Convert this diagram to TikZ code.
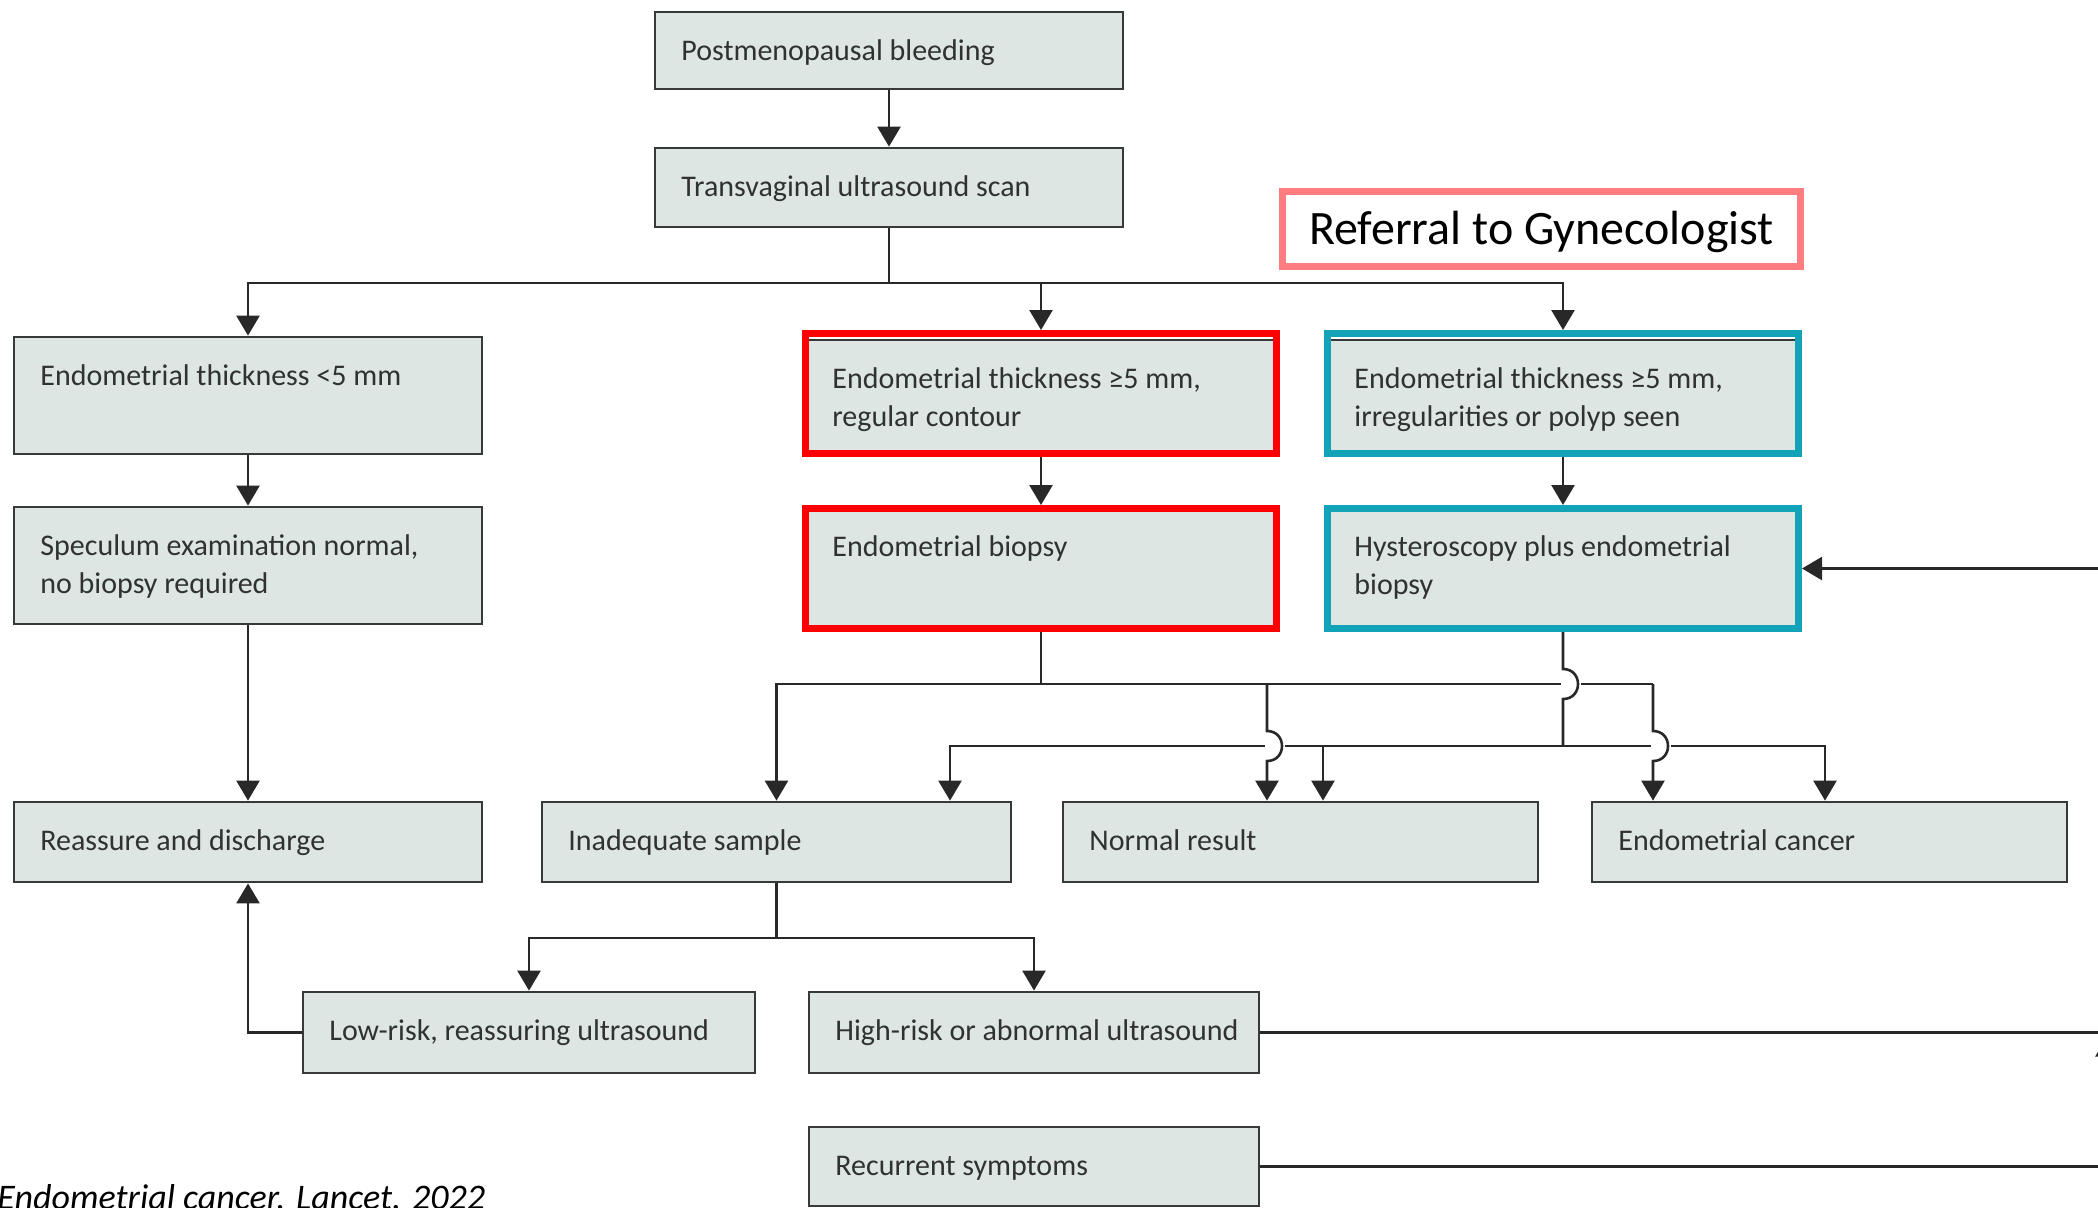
\documentclass[tikz,border=0pt]{standalone}
\usepackage{fontspec}
\setmainfont{Carlito}
\usetikzlibrary{arrows.meta,fit,calc}

\definecolor{boxfill}{RGB}{221,230,226}
\definecolor{boxline}{RGB}{55,58,56}
\definecolor{linkcol}{RGB}{40,40,40}
\definecolor{boxtxt}{RGB}{48,50,49}
\definecolor{redframe}{RGB}{255,0,0}
\definecolor{tealframe}{RGB}{18,163,184}
\definecolor{pinkframe}{RGB}{255,124,128}

\tikzset{
  stepbox/.style={draw=boxline, fill=boxfill, line width=1.4pt, inner sep=0pt},
  boxtext/.style={inner sep=0pt, anchor=base west, text=boxtxt,
                  font=\fontsize{15}{19}\selectfont},
  link/.style={draw=linkcol, line width=1.3pt},
  arr/.style={link, -{Triangle[width=11.5pt,length=10pt]}},
  gap/.style={draw=white, line width=4pt},
  hlframe/.style={line width=3.5pt, inner sep=0pt},
}

% box: name, x1, y1, x2, y2 (pixel grid, y downwards), text
\newcommand\flowbox[6]{%
  \node[stepbox, fit={(#2,#3) (#4,#5)}] (#1) {};
  \node[boxtext] (#1-t) at (#2+26,#3+48) {#6};
}
% coloured highlight frame: name, outer x1, y1, x2, y2, colour
\newcommand\hiframe[6]{%
  \node[hlframe, draw=#6, fit={(#2+3.5,#3+3.5) (#4-3.5,#5-3.5)}] (#1) {};
}
\newcommand\twolines[2]{\begin{tabular}[t]{@{}l@{}}#1\\#2\end{tabular}}

\begin{document}
\begin{tikzpicture}[x=0.5pt,y=-0.5pt]
\useasboundingbox (0,0) rectangle (2098,1207);
\clip (0,0) rectangle (2098,1207);

% ---------- boxes ----------
\flowbox{pb}{655}{12}{1123}{89}{Postmenopausal bleeding}
\flowbox{tv}{655}{148}{1123}{227}{Transvaginal ultrasound scan}

\flowbox{e5}{14}{337}{482}{454}{Endometrial thickness <5 mm}
\flowbox{spec}{14}{507}{482}{624}{\twolines{Speculum examination normal,}{no biopsy required}}
\flowbox{reas}{14}{802}{482}{882}{Reassure and discharge}

\flowbox{r1}{806}{340}{1276}{453}{\twolines{Endometrial thickness ≥5 mm,}{regular contour}}
\hiframe{r1f}{802}{330}{1280}{457}{redframe}
\flowbox{r2}{806}{508}{1276}{628}{Endometrial biopsy}
\hiframe{r2f}{802}{505}{1280}{632}{redframe}

\flowbox{b1}{1328}{340}{1798}{453}{\twolines{Endometrial thickness ≥5 mm,}{irregularities or polyp seen}}
\hiframe{b1f}{1324}{330}{1802}{457}{tealframe}
\flowbox{b2}{1328}{508}{1798}{628}{\twolines{Hysteroscopy plus endometrial}{biopsy}}
\hiframe{b2f}{1324}{505}{1802}{632}{tealframe}

\node[hlframe, draw=pinkframe, fill=white, fit={(1282.5,191.5) (1800.5,266.5)}] (refr) {};
\node[inner sep=0pt, anchor=base, font=\fontsize{24}{28}\selectfont] (refr-t)
  at (1541.5,244) {Referral to Gynecologist};

\flowbox{inad}{542}{802}{1011}{882}{Inadequate sample}
\flowbox{norm}{1063}{802}{1538}{882}{Normal result}
\flowbox{canc}{1592}{802}{2067}{882}{Endometrial cancer}

\flowbox{low}{303}{992}{755}{1073}{Low-risk, reassuring ultrasound}
\flowbox{high}{809}{992}{1259}{1073}{High-risk or abnormal ultrasound}
\flowbox{recur}{809}{1127}{1259}{1206}{Recurrent symptoms}

% ---------- junction points ----------
\coordinate (j1) at (889,283);
\coordinate (rj) at (1041,684);
\coordinate (bj) at (1563,746);
\coordinate (dA) at (1267,684);
\coordinate (dB) at (950,746);
\coordinate (dC) at (1323,746);
\coordinate (dD) at (1653,684);
\coordinate (dE) at (1825,746);
\coordinate (ij) at (776.5,938);
\coordinate (rr) at (2107,0);

% ---------- scan results ----------
\draw[arr] (pb) -- (tv);
\draw[link] (tv.south) -- (j1);
\draw[arr] (j1) -| (e5.north);
\draw[arr] (j1) -| (b1f.north);
\draw[arr] (r1f.north |- j1) -- (r1f.north);

\draw[arr] (e5) -- (spec);
\draw[arr] (spec) -- (reas);
\draw[arr] (r1f) -- (r2f);
\draw[arr] (b1f) -- (b2f);

% ---------- biopsy outcomes (horizontal runs) ----------
\draw[link] (r2f.south) -- (rj);
\draw[arr] (rj) -| (inad.north);
\draw[link] (rj) -- (dD);
\draw[arr] (bj) -| (dB |- inad.north);
\draw[arr] (bj) -| (dE |- canc.north);
\draw[arr] (dC) -- (dC |- norm.north);

% gaps where a vertical line hops over a horizontal one
\draw[gap] (1561,684) -- (1581,684);
\draw[gap] (1265,746) -- (1285,746);
\draw[gap] (1651,746) -- (1671,746);

% ---------- vertical runs with hops ----------
\draw[link] (b2f.south) -- (1563,669) .. controls (1583,669) and (1583,699) .. (1563,699) -- (bj);
\draw[arr] (dA) -- (1267,731) .. controls (1287,731) and (1287,761) .. (1267,761) -- (dA |- norm.north);
\draw[arr] (dD) -- (1653,731) .. controls (1673,731) and (1673,761) .. (1653,761) -- (dD |- canc.north);

% ---------- inadequate sample ----------
\draw[link] (inad.south) -- (ij);
\draw[arr] (ij) -| (low.north);
\draw[arr] (ij) -| (high.north);
\draw[arr] (low.west) -| (reas.south);

% ---------- return paths on the right ----------
\draw[arr] (high.east) -- (high.east -| rr) |- (b2f.east);
\draw[arr] (recur.east) -- (recur.east -| rr) -- ([yshift=-2pt]high.east -| rr);

% ---------- source ----------
\node[inner sep=0pt, anchor=base west, font=\fontsize{18}{22}\selectfont\itshape] (cite)
  at (-3,1209) {Endometrial cancer. Lancet. 2022};
\end{tikzpicture}
\end{document}
